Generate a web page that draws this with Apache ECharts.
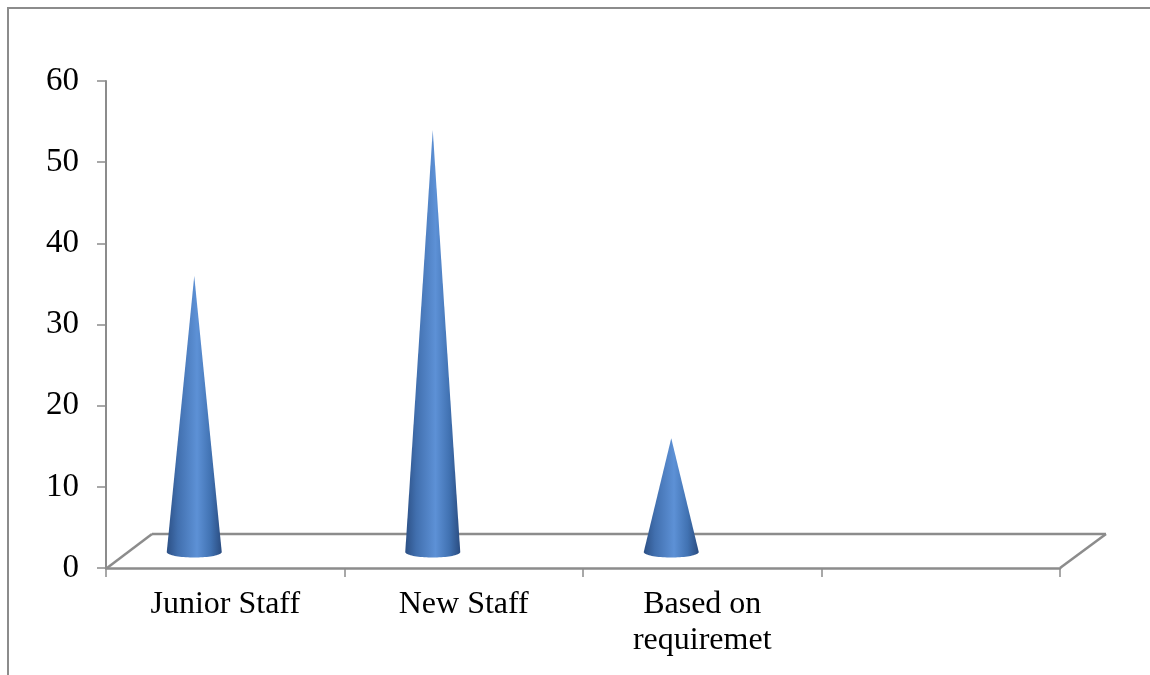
<!DOCTYPE html>
<html>
<head>
<meta charset="utf-8">
<script src="https://cdn.jsdelivr.net/npm/echarts@6/dist/echarts.min.js"></script>
<style>
  html, body { margin: 0; padding: 0; background: #fff; }
  #chart { width: 1150px; height: 675px; }
</style>
</head>
<body>
<div id="chart"></div>
<script>
// Staff categories (the last slot is left empty on the floor)
const categories = ['Junior Staff', 'New Staff', 'Based on\nrequiremet', ''];
const values = [34, 52, 14];
const yMin = 0, yMax = 60, yStep = 10;

// Depth of the 3D floor and where the cones stand inside it
const DEPTH_DX = 46, DEPTH_DY = -34;
const CONE_DX = -31, CONE_DY = -16;
const CONE_RX = 27.5, CONE_RY = 5.5;
const LINE_GRAY = '#8c8c8c';

const chart = echarts.init(document.getElementById('chart'), null, { renderer: 'canvas' });

function renderFloor(params, api) {
  const band = api.size([1, 0])[0];
  const first = api.coord([0, 0]);
  const last = api.coord([categories.length - 1, 0]);
  const x0 = first[0] - band / 2, x1 = last[0] + band / 2, y0 = first[1];
  const s = { stroke: LINE_GRAY, lineWidth: 2.5, fill: null };
  return {
    type: 'group',
    children: [
      { type: 'line', shape: { x1: x0 + 1, y1: y0, x2: x0 + DEPTH_DX, y2: y0 + DEPTH_DY }, style: s },
      { type: 'line', shape: { x1: x0 + DEPTH_DX, y1: y0 + DEPTH_DY, x2: x1 + DEPTH_DX, y2: y0 + DEPTH_DY }, style: s },
      { type: 'line', shape: { x1: x1, y1: y0, x2: x1 + DEPTH_DX, y2: y0 + DEPTH_DY }, style: s }
    ]
  };
}

function renderCone(params, api) {
  const idx = api.value(0);
  const v = api.value(1);
  const base = api.coord([idx, 0]);
  const top = api.coord([idx, v]);
  const cx = base[0] + CONE_DX, cy = base[1] + CONE_DY;
  const ax = top[0] + CONE_DX, ay = top[1] + CONE_DY;
  const pts = [[ax, ay]];
  const n = 40;
  for (let i = 0; i <= n; i++) {
    const t = (i / n) * Math.PI;
    pts.push([cx + CONE_RX * Math.cos(t), cy + CONE_RY * Math.sin(t)]);
  }
  return {
    type: 'polygon',
    shape: { points: pts },
    style: {
      fill: new echarts.graphic.LinearGradient(0, 0, 1, 0, [
        { offset: 0, color: '#2c5085' },
        { offset: 0.2, color: '#416fae' },
        { offset: 0.55, color: '#5d91d6' },
        { offset: 0.8, color: '#4172b2' },
        { offset: 1, color: '#2a4c80' }
      ])
    }
  };
}

chart.setOption({
  animation: false,
  backgroundColor: '#ffffff',
  graphic: [
    { type: 'line', shape: { x1: 7, y1: 8, x2: 1150, y2: 8 }, style: { stroke: LINE_GRAY, lineWidth: 2 } },
    { type: 'line', shape: { x1: 8, y1: 8, x2: 8, y2: 675 }, style: { stroke: LINE_GRAY, lineWidth: 2 } }
  ],
  grid: { left: 106, right: 90, top: 81, bottom: 107 },
  xAxis: {
    type: 'category',
    data: categories,
    boundaryGap: true,
    axisLine: { lineStyle: { color: LINE_GRAY, width: 2.5 } },
    axisTick: { show: true, length: 9, lineStyle: { color: LINE_GRAY, width: 1.5 } },
    axisLabel: {
      interval: 0,
      margin: 19,
      color: '#000',
      fontFamily: 'Liberation Serif',
      fontSize: 32,
      lineHeight: 36
    }
  },
  yAxis: {
    type: 'value',
    min: yMin,
    max: yMax,
    interval: yStep,
    splitLine: { show: false },
    axisLine: { show: true, lineStyle: { color: LINE_GRAY, width: 2 } },
    axisTick: { show: true, length: 9, lineStyle: { color: LINE_GRAY, width: 1.5 } },
    axisLabel: {
      margin: 27,
      color: '#000',
      fontFamily: 'Liberation Serif',
      fontSize: 33
    }
  },
  series: [
    {
      type: 'custom',
      renderItem: renderFloor,
      data: [[0, 0]],
      silent: true,
      z: 1
    },
    {
      type: 'custom',
      renderItem: renderCone,
      data: values.map((v, i) => [i, v]),
      encode: { x: 0, y: 1 },
      z: 2
    }
  ]
});
</script>
</body>
</html>
